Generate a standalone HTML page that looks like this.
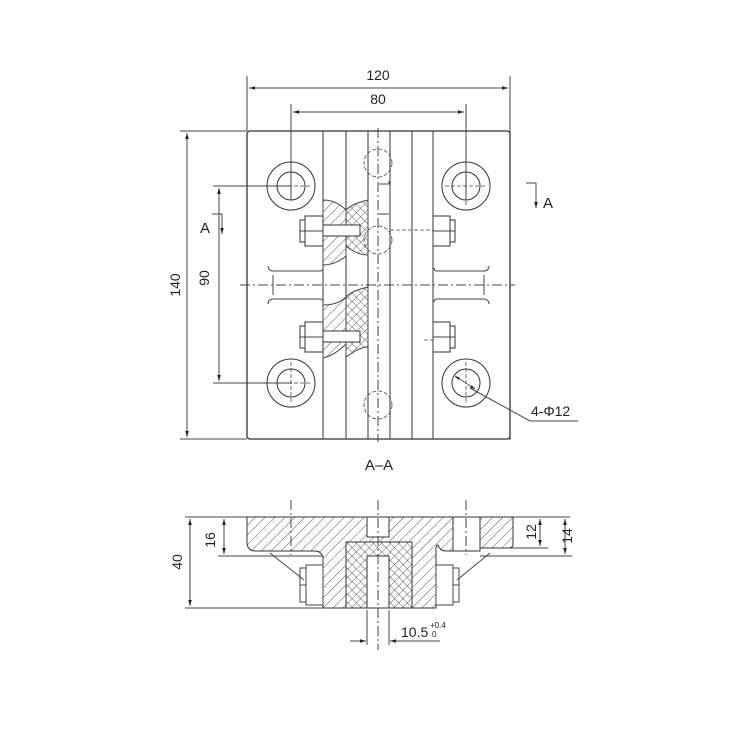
<!DOCTYPE html>
<html><head><style>body{margin:0;background:#fff}svg{display:block}</style></head><body>
<svg width="750" height="750" viewBox="0 0 750 750" xmlns="http://www.w3.org/2000/svg" font-family="Liberation Sans, sans-serif">
<defs>
<pattern id="h" width="7" height="7" patternUnits="userSpaceOnUse" patternTransform="rotate(45)"><line x1="0" y1="0" x2="0" y2="7" stroke="#444" stroke-width="0.9"/></pattern>
<pattern id="x" width="6" height="6" patternUnits="userSpaceOnUse" patternTransform="rotate(45)"><path d="M0 0V6M0 0H6" stroke="#333" stroke-width="0.8"/></pattern>
<marker id="a" viewBox="0 0 10 10" refX="10" refY="5" markerWidth="8" markerHeight="6" orient="auto-start-reverse"><path d="M0 2L10 5L0 8z" fill="#222"/></marker>
</defs>
<g stroke="#444" stroke-width="1" fill="none">
<line x1="247" y1="76" x2="247" y2="131"/><line x1="510" y1="76" x2="510" y2="440"/>
<line x1="249" y1="88" x2="508" y2="88" marker-start="url(#a)" marker-end="url(#a)"/>
<line x1="291" y1="104" x2="291" y2="200"/><line x1="466" y1="104" x2="466" y2="200"/>
<line x1="293" y1="112" x2="464" y2="112" marker-start="url(#a)" marker-end="url(#a)"/>
<line x1="180" y1="131" x2="247" y2="131"/><line x1="180" y1="439" x2="247" y2="439"/>
<line x1="187" y1="133" x2="187" y2="437" marker-start="url(#a)" marker-end="url(#a)"/>
<line x1="213" y1="186" x2="291" y2="186"/><line x1="213" y1="383" x2="291" y2="383"/>
<line x1="219" y1="188" x2="219" y2="381" marker-start="url(#a)" marker-end="url(#a)"/>
<path d="M212 214H222V233" /><path d="M526 183H536V205"/>
<path d="M222 228v6" marker-end="url(#a)"/><path d="M536 200v8" marker-end="url(#a)"/>
<path d="M470 388L530 421H578"/>
<rect x="247" y="131" width="263" height="308" rx="3" stroke="#333" stroke-width="1.3"/>
<g stroke="#333"><line x1="323" y1="131" x2="323" y2="439"/><line x1="346" y1="131" x2="346" y2="439"/><line x1="368" y1="131" x2="368" y2="439"/><line x1="390" y1="131" x2="390" y2="439"/><line x1="412" y1="131" x2="412" y2="439"/><line x1="433" y1="131" x2="433" y2="439"/></g>
<line x1="378" y1="128" x2="378" y2="442" stroke-dasharray="10 3 2 3"/>
<line x1="240" y1="285" x2="515" y2="285" stroke-dasharray="10 3 2 3"/>
<path d="M379 184h10v-3M379 214h10"/>
<g stroke="#333"><circle cx="291" cy="186" r="24"/><circle cx="291" cy="186" r="14"/><circle cx="466" cy="186" r="24"/><circle cx="466" cy="186" r="14"/><circle cx="291" cy="383" r="24"/><circle cx="291" cy="383" r="14"/><circle cx="466" cy="383" r="24"/><circle cx="466" cy="383" r="14"/></g>
<g stroke-dasharray="4 2" stroke-width="0.8"><line x1="270" y1="186" x2="312" y2="186"/><line x1="445" y1="186" x2="487" y2="186"/><line x1="270" y1="383" x2="312" y2="383"/><line x1="466" y1="362" x2="466" y2="404"/><line x1="291" y1="362" x2="291" y2="404"/><line x1="466" y1="165" x2="466" y2="207"/>
<circle cx="378" cy="163" r="14"/><circle cx="378" cy="240" r="14"/><circle cx="378" cy="405" r="14"/><line x1="390" y1="230" x2="452" y2="230"/><line x1="424" y1="340" x2="440" y2="340"/></g>
<path d="M455 376l20 13" marker-start="url(#a)" marker-end="url(#a)" stroke-width="0.8"/>
<path d="M323 200c10 0 18 5 23 10v46c-6 5-14 9-23 9z" fill="url(#h)"/>
<path d="M346 210c6-6 14-8 22-10v55c-8 0-16 -4-22-9z" fill="url(#x)"/>
<path d="M323 305c10 0 18-3 23-8v47c-6 6-14 12-23 14z" fill="url(#h)"/>
<path d="M346 297c6-6 14-8 22-10v60c-8 0-16 6-22 10z" fill="url(#x)"/>
<g fill="#fff" stroke="#333">
<path d="M305 216h18v30h-18zM300 220h5v22h-5zM323 225h37v11h-37z"/>
<path d="M305 322h18v30h-18zM300 326h5v22h-5zM323 331h37v11h-37z"/>
<path d="M433 216h17v30h-17zM450 220h5v22h-5z"/>
<path d="M433 322h17v30h-17zM450 326h5v22h-5z"/>
</g>
<path d="M300 231h5M450 231h5M300 337h5M450 337h5M305 231h18M305 337h18M433 231h17M433 337h17"/>
<path d="M268 266c0 3 2 5 5 5h47c2 0 3-1 3-3M268 304c0-3 2-5 5-5h47c2 0 3 1 3 3M273 275v20"/>
<path d="M489 266c0 3-2 5-5 5h-47c-2 0-3-1-3-3M489 304c0-3-2-5-5-5h-47c-2 0-3 1-3 3M484 275v20"/>
<line x1="185" y1="517" x2="247" y2="517"/><line x1="185" y1="608" x2="323" y2="608"/>
<line x1="190" y1="519" x2="190" y2="606" marker-start="url(#a)" marker-end="url(#a)"/>
<line x1="218" y1="556" x2="322" y2="556"/>
<line x1="224" y1="519" x2="224" y2="554" marker-start="url(#a)" marker-end="url(#a)"/>
<line x1="513" y1="517" x2="570" y2="517"/><line x1="500" y1="548" x2="548" y2="548"/><line x1="480" y1="556" x2="572" y2="556"/>
<line x1="540" y1="519" x2="540" y2="546" marker-start="url(#a)" marker-end="url(#a)"/>
<line x1="565" y1="519" x2="565" y2="554" marker-start="url(#a)" marker-end="url(#a)"/>
<path d="M249 517H513V544q0 4-4 4H480V551H446q-6 0-8-6q-2 0-2 4V608H323V557q-2-6-8-6H256q-9 0-9-9V517z" fill="url(#h)" stroke="#333"/>
<rect x="346" y="542" width="66" height="66" fill="#fff" stroke="#333"/>
<rect x="346" y="542" width="66" height="66" fill="url(#x)" stroke="#333"/>
<rect x="367" y="556" width="22" height="52" fill="#fff" stroke="#333"/>
<rect x="367" y="517" width="22" height="20" fill="#fff" stroke="#333"/>
<rect x="453" y="517" width="27" height="34" fill="#fff" stroke="#333"/>
<line x1="378" y1="500" x2="378" y2="650" stroke-dasharray="10 3 2 3"/>
<line x1="291" y1="500" x2="291" y2="555" stroke-dasharray="10 3 2 3"/><line x1="466" y1="500" x2="466" y2="555" stroke-dasharray="10 3 2 3"/>
<path d="M300 568h6v34h-6zM306 565h17v40h-17zM300 585h6" fill="#fff"/>
<path d="M436 565h17v40h-17zM453 568h6v34h-6zM453 585h6" fill="#fff"/>
<path d="M270 553L304 580M490 553L457 580"/>
<line x1="367" y1="610" x2="367" y2="645"/><line x1="389" y1="610" x2="389" y2="645"/>
<line x1="350" y1="641" x2="366" y2="641" marker-end="url(#a)"/><line x1="440" y1="641" x2="390" y2="641" marker-end="url(#a)"/>
</g>
<g fill="#222" font-size="14">
<text x="378" y="80" text-anchor="middle">120</text>
<text x="378" y="104" text-anchor="middle">80</text>
<text x="200" y="233" font-size="15">A</text>
<text x="543" y="208" font-size="15">A</text>
<text transform="translate(180 285) rotate(-90)" text-anchor="middle">140</text>
<text transform="translate(209 278) rotate(-90)" text-anchor="middle">90</text>
<text x="531" y="416">4-Φ12</text>
<text x="379" y="470" text-anchor="middle" font-size="15">A–A</text>
<text transform="translate(182 562) rotate(-90)" text-anchor="middle">40</text>
<text transform="translate(215 540) rotate(-90)" text-anchor="middle">16</text>
<text transform="translate(536 532) rotate(-90)" text-anchor="middle">12</text>
<text transform="translate(572 536) rotate(-90)" text-anchor="middle">14</text>
<text x="401" y="637">10.5</text>
<text x="430" y="628" font-size="8">+0.4</text>
<text x="432" y="637" font-size="8">0</text>
</g>
</svg>
</body></html>
